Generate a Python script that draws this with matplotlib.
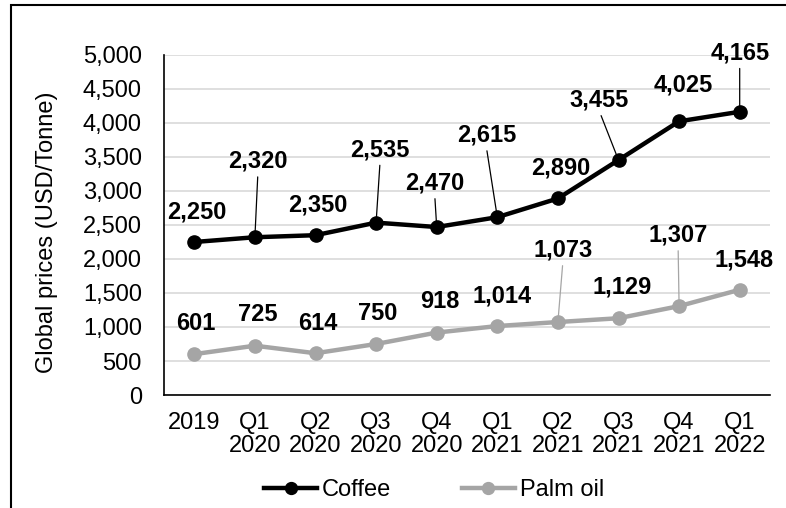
import matplotlib

matplotlib.use("Agg")
import matplotlib.pyplot as plt
from matplotlib.patches import Rectangle

plt.rcParams.update({"font.family": ["Liberation Sans", "DejaVu Sans"], "font.size": 17})

periods = ["2019", "Q1\n2020", "Q2\n2020", "Q3\n2020", "Q4\n2020",
           "Q1\n2021", "Q2\n2021", "Q3\n2021", "Q4\n2021", "Q1\n2022"]
coffee = [2250, 2320, 2350, 2535, 2470, 2615, 2890, 3455, 4025, 4165]
palm_oil = [601, 725, 614, 750, 918, 1014, 1073, 1129, 1307, 1548]
y_ticks = [0, 500, 1000, 1500, 2000, 2500, 3000, 3500, 4000, 4500, 5000]

# label offsets from each marker, in pixels (dx, dy up)
coffee_offsets = [(3, 30), (3, 76), (2, 30), (4, 73), (-2, 44),
                  (-11, 82), (3, 30), (-19, 60), (4, 36), (0, 59)]
palm_offsets = [(2, 31), (3, 31), (2, 30), (2, 30), (3, 31),
                (5, 30), (5, 72), (4, 31), (-1, 71), (4, 30)]

COFFEE_COLOR = "black"
PALM_COLOR = "#a5a5a5"
FS = 17

fig = plt.figure(figsize=(7.86, 5.08), dpi=100)
ax = fig.add_axes([164 / 786, 1 - 395 / 508, (770 - 164) / 786, (395 - 55) / 508])

x = list(range(len(periods)))
ax.plot(x, coffee, color=COFFEE_COLOR, lw=3.2, marker="o", ms=9.5, label="Coffee", zorder=4)
ax.plot(x, palm_oil, color=PALM_COLOR, lw=3.2, marker="o", ms=9.5, label="Palm oil", zorder=4)


def add_labels(values, offsets, color):
    for i, (v, (dx, dy)) in enumerate(zip(values, offsets)):
        arrow = None
        if dy > 40:
            arrow = dict(arrowstyle="-", color=color, lw=0.9, shrinkA=1, shrinkB=0,
                         relpos=(0.5, 0))
        ax.annotate(f"{v:,}", xy=(i, v), xytext=(dx, dy), textcoords="offset pixels",
                    ha="center", va="center", fontsize=FS, fontweight="bold",
                    color="black", arrowprops=arrow, zorder=3)


add_labels(coffee, coffee_offsets, COFFEE_COLOR)
add_labels(palm_oil, palm_offsets, PALM_COLOR)

ax.set_xlim(-0.5, len(periods) - 0.5)
ax.set_ylim(0, 5000)
ax.set_yticks(y_ticks)
ax.set_yticklabels([f"{t:,}" for t in y_ticks])
ax.set_xticks(x)
ax.set_xticklabels(periods, linespacing=1.05)
ax.tick_params(axis="both", length=0, labelsize=FS)
ax.tick_params(axis="y", pad=16)
ax.tick_params(axis="x", pad=12)
ax.grid(axis="y", color="#d9d9d9", lw=1.2)
ax.set_axisbelow(True)
for side in ("top", "right"):
    ax.spines[side].set_visible(False)
for side in ("left", "bottom"):
    ax.spines[side].set_color("black")
    ax.spines[side].set_linewidth(1.2)

fig.text(47 / 786, 1 - 232 / 508, "Global prices (USD/Tonne)", rotation=90,
         ha="center", va="center", fontsize=FS)

fig.legend(loc="center", bbox_to_anchor=(434 / 786, 1 - 490 / 508), ncol=2,
           frameon=False, fontsize=FS, handlelength=2.25, handletextpad=0.2,
           columnspacing=3.0, borderaxespad=0, markerscale=0.9)

# chart-area border, running off the right and bottom edges
fig.patches.append(Rectangle((11 / 786, -0.2), 1.2, 1.2 - 5 / 508,
                             transform=fig.transFigure, fill=False,
                             edgecolor="black", lw=1.5))

fig.savefig("out.png", dpi=100)
